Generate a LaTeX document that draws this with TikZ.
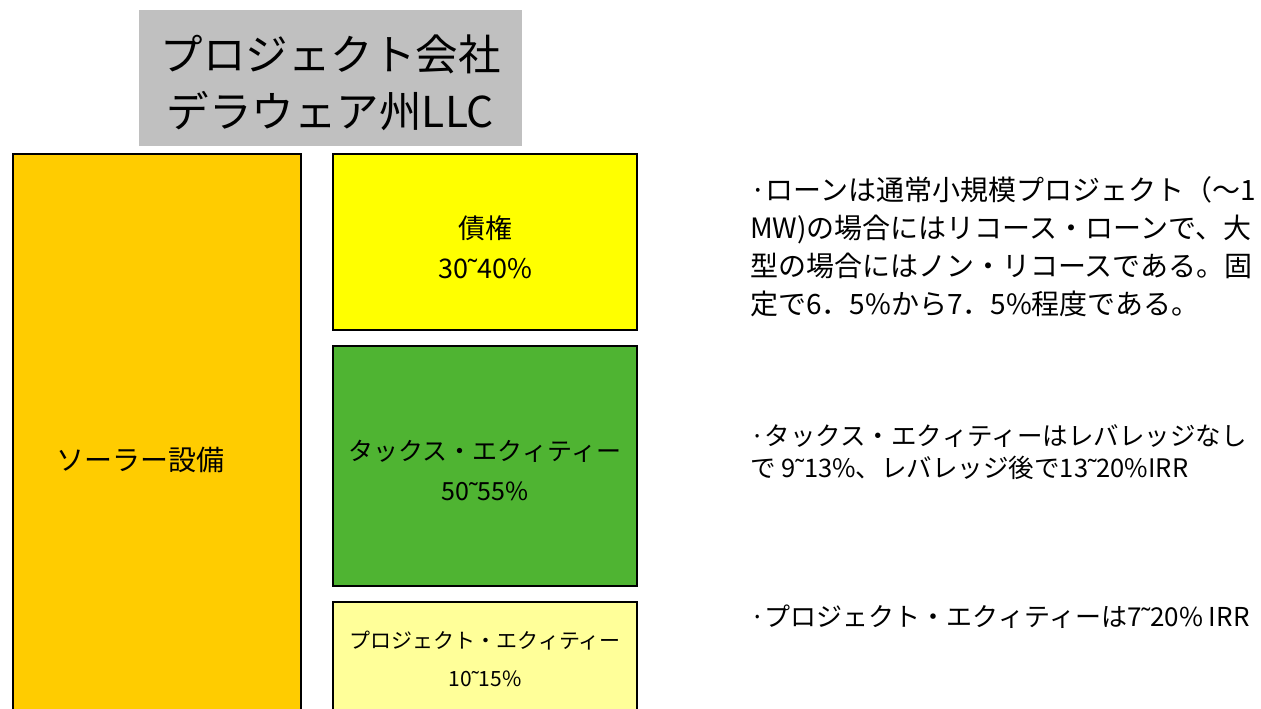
\documentclass[tikz,border=0pt]{standalone}
\usepackage{fontspec}
\setmainfont{Noto Sans CJK JP}
\newfontfamily\tlfont{Liberation Sans}
\newcommand{\tld}{{\tlfont ˜}}
\definecolor{titlegray}{HTML}{C0C0C0}
\definecolor{solar}{HTML}{FFCC00}
\definecolor{debt}{HTML}{FFFF00}
\definecolor{taxg}{HTML}{4FB432}
\definecolor{projy}{HTML}{FFFF99}
\begin{document}
\begin{tikzpicture}[x=1pt,y=-1pt,
  blk/.style={draw=black,line width=1.2pt},
  lbl/.style={align=center,inner sep=0pt,font=\fontsize{25}{40}\selectfont},
  note/.style={anchor=west,align=left,inner sep=0pt}]
\useasboundingbox (0,0) rectangle (1261,709);
\fill[titlegray] (139,10) rectangle (522,146);
\node[align=center,inner sep=0pt,font=\fontsize{42.5}{57}\selectfont] (title) at (330.5,83) {プロジェクト会社\\デラウェア州LLC};
\path[blk,fill=solar] (13,154) rectangle (301,715);
\node[lbl,font=\fontsize{28}{40}\selectfont] (solarlbl) at (140,460) {ソーラー設備};
\path[blk,fill=debt] (333,154) rectangle (637,330);
\node[lbl,font=\fontsize{27}{40}\selectfont] (debtlbl) at (485,247) {債権\\30\tld40\%};
\path[blk,fill=taxg] (333,346) rectangle (637,586);
\node[lbl] (taxlbl) at (485,470) {タックス・エクィティー\\50\tld55\%};
\path[blk,fill=projy] (333,602) rectangle (637,715);
\node[lbl,font=\fontsize{21}{38}\selectfont] (projlbl) at (485,659) {プロジェクト・エクィティー\\10\tld15\%};
\node[note,font=\fontsize{28}{38}\selectfont] (n1) at (750,247) {·ローンは通常小規模プロジェクト（～1\\MW)の場合にはリコース・ローンで、大\\型の場合にはノン・リコースである。固\\定で6．5\%から7．5\%程度である。};
\node[note,font=\fontsize{25.5}{32}\selectfont] (n2) at (750,452) {·タックス・エクィティーはレバレッジなし\\で 9\tld13\%、レバレッジ後で13\tld20\%IRR};
\node[note,font=\fontsize{26}{32}\selectfont] (n3) at (750,617) {·プロジェクト・エクィティーは7\tld20\% IRR};
\end{tikzpicture}
\end{document}
